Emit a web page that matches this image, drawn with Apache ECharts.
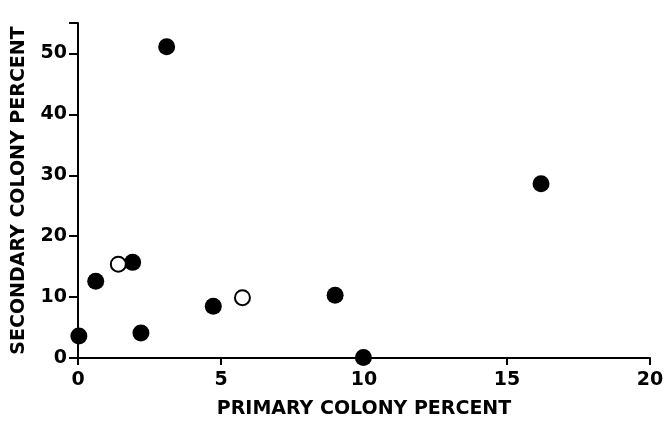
<!DOCTYPE html>
<html>
<head>
<meta charset="utf-8">
<script src="https://cdn.jsdelivr.net/npm/echarts@6/dist/echarts.min.js"></script>
<style>
  html, body { margin: 0; padding: 0; background: #fff; }
  #chart { width: 665px; height: 421px; }
</style>
</head>
<body>
<div id="chart"></div>
<script>
// filled circles
var filledX = [0.03, 0.62, 1.91, 2.2, 3.1, 4.73, 8.99, 9.98, 16.19];
var filledY = [3.6, 12.6, 15.7, 4.1, 51.1, 8.5, 10.3, 0.1, 28.6];
// open circles
var openX = [1.41, 5.75];
var openY = [15.4, 9.9];

var xTicks = [0, 5, 10, 15, 20];
var yTicks = [0, 10, 20, 30, 40, 50];

function pairs(xs, ys) {
  return xs.map(function (x, i) { return [x, ys[i]]; });
}

var chart = echarts.init(document.getElementById('chart'));
var font = 'DejaVu Sans';

var option = {
  animation: false,
  backgroundColor: '#fff',
  grid: { left: 78, right: 15, top: 23, bottom: 63, containLabel: false, outerBoundsMode: 'none' },
  xAxis: {
    type: 'value',
    min: 0, max: 20, interval: 5,
    name: 'PRIMARY COLONY PERCENT',
    nameLocation: 'middle',
    nameGap: 42,
    nameTextStyle: { color: '#000', fontFamily: font, fontSize: 19, fontWeight: 'bold' },
    axisLine: { lineStyle: { color: '#000', width: 2 } },
    axisTick: { show: true, length: 7, lineStyle: { color: '#000', width: 2 } },
    axisLabel: { color: '#000', fontFamily: font, fontSize: 19, fontWeight: 'bold', margin: 13,
      formatter: function (v) { return xTicks.indexOf(v) >= 0 ? String(v) : ''; } },
    splitLine: { show: false }
  },
  yAxis: {
    type: 'value',
    min: 0, max: 55, interval: 10,
    name: 'SECONDARY COLONY PERCENT',
    nameLocation: 'middle',
    nameGap: 49,
    nameTextStyle: { color: '#000', fontFamily: font, fontSize: 19, fontWeight: 'bold' },
    axisLine: { lineStyle: { color: '#000', width: 2 } },
    axisTick: { show: true, length: 9, lineStyle: { color: '#000', width: 2 } },
    axisLabel: { color: '#000', fontFamily: font, fontSize: 19, fontWeight: 'bold', margin: 11,
      formatter: function (v) { return yTicks.indexOf(v) >= 0 ? String(v) : ''; } },
    splitLine: { show: false }
  },
  series: [
    {
      type: 'scatter',
      data: pairs(filledX, filledY),
      symbol: 'circle',
      symbolSize: 17,
      itemStyle: { color: '#000', opacity: 1 }
    },
    {
      type: 'scatter',
      data: pairs(openX, openY),
      symbol: 'circle',
      symbolSize: 15,
      itemStyle: { color: '#fff', borderColor: '#000', borderWidth: 2, opacity: 1 }
    }
  ]
};

chart.setOption(option);
</script>
</body>
</html>
